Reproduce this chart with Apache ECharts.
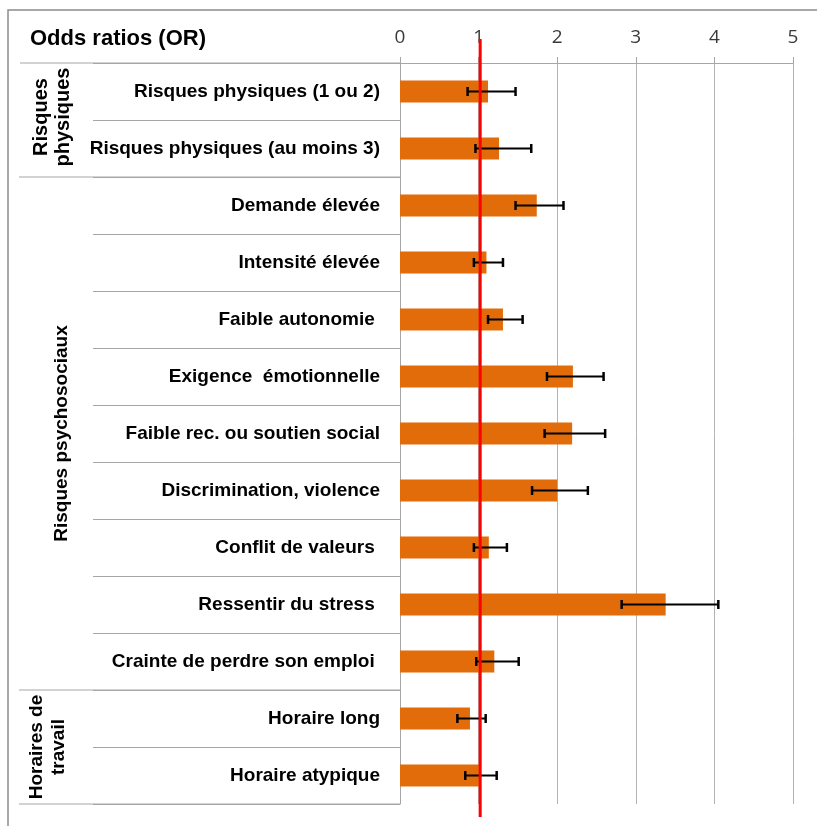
<!DOCTYPE html>
<html><head><meta charset="utf-8">
<script src="https://cdn.jsdelivr.net/npm/echarts@6/dist/echarts.min.js"></script>
<style>html,body{margin:0;padding:0;background:#fff}#c{width:817px;height:826px}</style>
</head><body><div id="c"></div>
<script>
const categories = [
  "Risques physiques (1 ou 2)",
  "Risques physiques (au moins 3)",
  "Demande élevée",
  "Intensité élevée",
  "Faible autonomie ",
  "Exigence  émotionnelle",
  "Faible rec. ou soutien social",
  "Discrimination, violence",
  "Conflit de valeurs ",
  "Ressentir du stress ",
  "Crainte de perdre son emploi ",
  "Horaire long",
  "Horaire atypique"
];
const oddsRatios = [1.12, 1.26, 1.74, 1.10, 1.31, 2.20, 2.19, 2.00, 1.13, 3.38, 1.20, 0.89, 1.02];
const ciLower    = [0.86, 0.96, 1.47, 0.94, 1.12, 1.87, 1.84, 1.68, 0.94, 2.82, 0.97, 0.73, 0.83];
const ciUpper    = [1.47, 1.67, 2.08, 1.31, 1.56, 2.59, 2.61, 2.39, 1.36, 4.05, 1.51, 1.09, 1.23];
const groupNames = ["Risques\nphysiques", "Risques psychosociaux", "Horaires de\ntravail"];
const groupSizes = [2, 9, 2];
const xTicks = [0, 1, 2, 3, 4, 5];
const referenceOR = 1.02;
const titleText = "Odds ratios (OR)";

const LABEL_FONT = '"Liberation Sans", Arial, sans-serif';
const GRID = '#a6a6a6';
const chart = echarts.init(document.getElementById('c'), null, {renderer: 'canvas'});

const option = {
  animation: false,
  backgroundColor: '#fff',
  title: {text: titleText, left: 25, top: 23,
    textStyle: {fontFamily: LABEL_FONT, fontWeight: 'bold', fontSize: 22, color: '#000'}},
  grid: {left: 400, right: 24, top: 63, bottom: 22},
  xAxis: {type: 'value', position: 'top', min: xTicks[0], max: xTicks[xTicks.length - 1], interval: 1,
    axisLine: {show: true, lineStyle: {color: GRID}},
    axisTick: {show: true, length: 6, lineStyle: {color: GRID}},
    splitLine: {show: true, lineStyle: {color: '#b3b3b3'}},
    axisLabel: {margin: 16, fontFamily: '"Open Sans", sans-serif', fontSize: 19, color: '#3a3a3a'}},
  yAxis: {type: 'category', data: categories, inverse: true,
    axisLine: {show: true, lineStyle: {color: GRID}},
    axisTick: {show: true, interval: 0, length: 307, lineStyle: {color: GRID}},
    axisLabel: {interval: 0, margin: 20, fontFamily: LABEL_FONT, fontWeight: 'bold', fontSize: 19, color: '#000'}},
  series: [
    {type: 'bar', data: oddsRatios, barWidth: 22, itemStyle: {color: '#e36c0a'}, z: 2},
    {type: 'custom', z: 3,
      data: categories.map((c, i) => [i, ciLower[i], ciUpper[i]]),
      encode: {y: 0, x: [1, 2]},
      renderItem: function (params, api) {
        const idx = api.value(0);
        const p1 = api.coord([api.value(1), idx]);
        const p2 = api.coord([api.value(2), idx]);
        const h = 4.5;
        const st = {stroke: '#000', lineWidth: 2};
        const cap = {stroke: '#000', lineWidth: 2.5};
        return {type: 'group', children: [
          {type: 'line', shape: {x1: p1[0], y1: p1[1], x2: p2[0], y2: p2[1]}, style: st},
          {type: 'line', shape: {x1: p1[0], y1: p1[1] - h, x2: p1[0], y2: p1[1] + h}, style: cap},
          {type: 'line', shape: {x1: p2[0], y1: p2[1] - h, x2: p2[0], y2: p2[1] + h}, style: cap}
        ]};
      }}
  ]
};
chart.setOption(option);

const c0 = chart.convertToPixel({yAxisIndex: 0}, 0);
const c1 = chart.convertToPixel({yAxisIndex: 0}, 1);
const band = c1 - c0;
const yTop = c0 - band / 2;
const xZero = chart.convertToPixel({xAxisIndex: 0}, 0);
const xRef = chart.convertToPixel({xAxisIndex: 0}, referenceOR);
const groupLabelX = [52, 62, 48];
const groupFont = [20, 19, 19];
const graphics = [];
graphics.push({type: 'polyline', z: 5, shape: {points: [[8, 826], [8, 10], [817, 10]]},
  style: {stroke: '#8c8c8c', lineWidth: 1.5, fill: null}});
graphics.push({type: 'line', z: 5, shape: {x1: 20, y1: yTop, x2: xZero, y2: yTop}, style: {stroke: GRID, lineWidth: 1}});
let start = 0;
groupSizes.forEach((n, g) => {
  const end = start + n;
  const yS = yTop + start * band, yE = yTop + end * band;
  graphics.push({type: 'line', z: 5, shape: {x1: 19, y1: yE, x2: xZero, y2: yE}, style: {stroke: GRID, lineWidth: 1}});
  graphics.push({type: 'text', z: 5, x: groupLabelX[g], y: (yS + yE) / 2 - (g === 0 ? 3 : 0), rotation: Math.PI / 2,
    style: {text: groupNames[g], fontFamily: LABEL_FONT, fontWeight: 'bold', fontSize: groupFont[g], lineHeight: 22,
      fill: '#000', align: 'center', verticalAlign: 'middle'}});
  start = end;
});
graphics.push({type: 'line', z: 20, shape: {x1: xRef, y1: 39, x2: xRef, y2: 817}, style: {stroke: '#ff0000', lineWidth: 3}});
chart.setOption({graphic: graphics});
</script></body></html>
